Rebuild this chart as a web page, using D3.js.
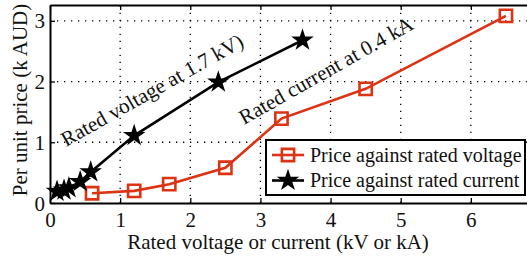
<!DOCTYPE html>
<html>
<head>
<meta charset="utf-8">
<script src="https://cdn.jsdelivr.net/npm/d3@7"></script>
<style>
  body { margin: 0; background: #fff; }
  svg { display: block; overflow: hidden; }
</style>
</head>
<body>
<div id="chart"></div>
<script>
const FRAME_WIDTH = 527;
const FRAME_HEIGHT = 260;
const MARGINS = {left: 50, right: -14, top: 5, bottom: 57};
const SERIF = "'Liberation Serif', 'DejaVu Serif', 'Times New Roman', serif";

// data
const voltageX = [0.6, 1.2, 1.7, 2.5, 3.3, 4.5, 6.5];
const voltagePrice = [0.16, 0.2, 0.31, 0.58, 1.39, 1.88, 3.08];
const currentX = [0.1, 0.2, 0.27, 0.43, 0.58, 1.2, 2.4, 3.6];
const currentPrice = [0.19, 0.21, 0.25, 0.35, 0.51, 1.11, 1.99, 2.68];
const xTicks = [0, 1, 2, 3, 4, 5, 6];
const yTicks = [0, 1, 2, 3];
const legendLabels = ["Price against rated voltage", "Price against rated current"];
const notes = ["Rated voltage at 1.7 kV)", "Rated current at 0.4 kA"];

const RED = "#dc3314";

const svg = d3.select("#chart")
  .append("svg")
    .attr("width", FRAME_WIDTH)
    .attr("height", FRAME_HEIGHT)
    .style("font-family", SERIF);

const VIS_W = FRAME_WIDTH - MARGINS.left - MARGINS.right;
const VIS_H = FRAME_HEIGHT - MARGINS.top - MARGINS.bottom;

const x = d3.scaleLinear().domain([0, 7]).range([MARGINS.left, MARGINS.left + VIS_W]);
const y = d3.scaleLinear().domain([0, 3.26]).range([MARGINS.top + VIS_H, MARGINS.top]);

// dotted grid
const grid = svg.append("g").attr("stroke", "#000").attr("stroke-width", 1.3)
  .attr("stroke-dasharray", "1.3,5.7");
grid.selectAll(".gx").data(xTicks.slice(1)).enter().append("line")
  .attr("x1", d => x(d)).attr("x2", d => x(d))
  .attr("y1", y(0)).attr("y2", y(3.26));
grid.selectAll(".gy").data(yTicks.slice(1)).enter().append("line")
  .attr("x1", x(0)).attr("x2", x(7))
  .attr("y1", d => y(d)).attr("y2", d => y(d));

// axes with inward ticks
const xAxis = svg.append("g")
  .attr("transform", "translate(0," + y(0) + ")")
  .call(d3.axisBottom(x).tickValues(xTicks).tickFormat(d3.format("d"))
    .tickSizeInner(-5).tickSizeOuter(0).tickPadding(9));
const xTop = svg.append("g")
  .attr("transform", "translate(0," + y(3.26) + ")")
  .call(d3.axisTop(x).tickValues(xTicks).tickSizeInner(-5).tickSizeOuter(0).tickFormat(""));
const yAxis = svg.append("g")
  .attr("transform", "translate(" + x(0) + ",0)")
  .call(d3.axisLeft(y).tickValues(yTicks).tickFormat(d3.format("d"))
    .tickSizeInner(-5).tickSizeOuter(0).tickPadding(5));

[xAxis, xTop, yAxis].forEach(g => {
  g.attr("font-family", SERIF).attr("font-size", 21);
  g.select(".domain").attr("stroke", "#000").attr("stroke-width", 2);
  g.selectAll(".tick line").attr("stroke", "#000").attr("stroke-width", 1.3);
  g.selectAll(".tick text").attr("fill", "#111");
});
xAxis.selectAll(".tick text").attr("dy", "0.71em");
yAxis.selectAll(".tick text").attr("dy", "0.34em");

// lines
const line = d3.line().x(d => x(d[0])).y(d => y(d[1]));
const vData = voltageX.map((v, i) => [v, voltagePrice[i]]);
const cData = currentX.map((v, i) => [v, currentPrice[i]]);

svg.append("path").datum(vData).attr("d", line)
  .attr("fill", "none").attr("stroke", RED).attr("stroke-width", 2.6);
svg.append("path").datum(cData).attr("d", line)
  .attr("fill", "none").attr("stroke", "#000").attr("stroke-width", 2.6);

const square = d3.symbol().type(d3.symbolSquare).size(150);
const star = d3.symbol().type(d3.symbolStar).size(100);

svg.append("g").selectAll("path").data(vData).enter().append("path")
  .attr("d", square)
  .attr("transform", d => "translate(" + x(d[0]) + "," + y(d[1]) + ")")
  .attr("fill", "none").attr("stroke", RED).attr("stroke-width", 2.6);
svg.append("g").selectAll("path").data(cData).enter().append("path")
  .attr("d", star)
  .attr("transform", d => "translate(" + x(d[0]) + "," + y(d[1]) + ")")
  .attr("fill", "#000").attr("stroke", "#000").attr("stroke-width", 1.5);

// annotations
svg.append("text").text(notes[0])
  .attr("transform", "translate(66,147) rotate(-29.5)")
  .attr("fill", "#111")
  .style("font-size", "21px");
svg.append("text").text(notes[1])
  .attr("transform", "translate(244,125) rotate(-29.5)")
  .attr("fill", "#111")
  .style("font-size", "21px");

// legend
const lg = svg.append("g").attr("transform", "translate(266,140)");
lg.append("rect").attr("width", 259).attr("height", 55)
  .attr("fill", "#fff").attr("stroke", "#000").attr("stroke-width", 2);
const rows = [{c: RED, sym: "sq"}, {c: "#000", sym: "st"}];
rows.forEach((r, i) => {
  const yy = 15 + i * 25.5;
  lg.append("line").attr("x1", 6).attr("x2", 38).attr("y1", yy).attr("y2", yy)
    .attr("stroke", r.c).attr("stroke-width", 2.6);
  lg.append("path").attr("d", r.sym === "sq" ? square : star)
    .attr("transform", "translate(22," + yy + ")")
    .attr("fill", r.sym === "sq" ? "none" : "#000")
    .attr("stroke", r.c).attr("stroke-width", r.sym === "sq" ? 2.6 : 1.5);
  lg.append("text").text(legendLabels[i])
    .attr("x", 44).attr("y", yy + 6.5)
    .attr("fill", "#111")
    .style("font-size", "20px");
});

// axis labels
svg.append("text").text("Rated voltage or current (kV or kA)")
  .attr("x", 278).attr("y", 249).attr("text-anchor", "middle")
  .attr("fill", "#111")
  .style("font-size", "21px");
svg.append("text").text("Per unit price (k AUD)")
  .attr("transform", "translate(27,100) rotate(-90)")
  .attr("text-anchor", "middle")
  .attr("fill", "#111")
  .style("font-size", "21px");
</script>
</body>
</html>
